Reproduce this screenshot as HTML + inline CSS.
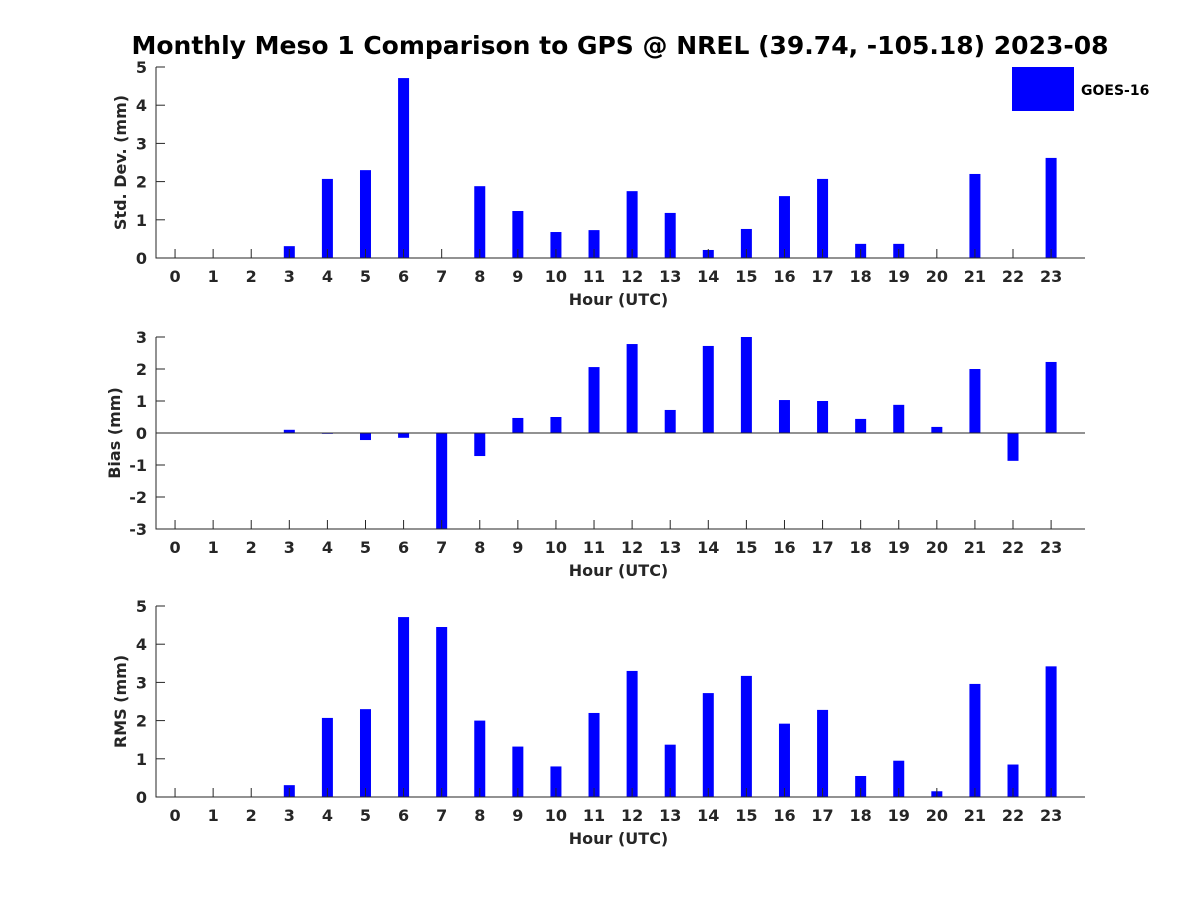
<!DOCTYPE html>
<html><head><meta charset="utf-8"><style>
body{margin:0;background:#fff;}
text{font-family:"DejaVu Sans","Liberation Sans",sans-serif;font-weight:bold;fill:#262626;}
</style></head><body>
<svg id="chart" width="1200" height="900" xmlns="http://www.w3.org/2000/svg">
<rect width="1200" height="900" fill="#fff"/>
<text x="620" y="54" font-size="25" text-anchor="middle" style="fill:#000">Monthly Meso 1 Comparison to GPS @ NREL (39.74, -105.18) 2023-08</text>
<rect x="1012" y="67" width="62" height="44" fill="#0000ff"/>
<text x="1081" y="95" font-size="14" style="fill:#000">GOES-16</text>
</svg>
<script>
const hours = [0,1,2,3,4,5,6,7,8,9,10,11,12,13,14,15,16,17,18,19,20,21,22,23];
const stdValues = [null,null,null,0.31,2.07,2.3,4.71,null,1.88,1.23,0.68,0.73,1.75,1.18,0.21,0.76,1.62,2.07,0.37,0.37,null,2.2,null,2.62];
const biasValues = [null,null,null,0.1,-0.02,-0.22,-0.15,-3.5,-0.72,0.47,0.5,2.06,2.78,0.72,2.72,3.0,1.03,1.0,0.44,0.88,0.19,2.0,-0.87,2.22];
const rmsValues = [null,null,null,0.31,2.07,2.3,4.71,4.45,2.0,1.32,0.8,2.2,3.3,1.37,2.72,3.17,1.92,2.28,0.55,0.95,0.15,2.96,0.85,3.42];
const stdTicks = [0,1,2,3,4,5];
const biasTicks = [-3,-2,-1,0,1,2,3];
const rmsTicks = [0,1,2,3,4,5];

const svg = document.getElementById('chart');
const NS = 'http://www.w3.org/2000/svg';
function mk(tag, attrs, parent){
  const e = document.createElementNS(NS, tag);
  for (const k in attrs) e.setAttribute(k, attrs[k]);
  (parent||svg).appendChild(e);
  return e;
}
const X0 = 156, X1 = 1085, XMIN = -0.5, XMAX = 23.89;
function xs(v){ return X0 + (v - XMIN) / (XMAX - XMIN) * (X1 - X0); }

function panel(name, values, ticks, ymin, ymax, top, bottom, ylabel, ylx){
  const g = mk('g', {});
  
  
  const ys = v => bottom - (v - ymin) / (ymax - ymin) * (bottom - top);
  const base = ys(Math.max(ymin, Math.min(ymax, 0)));
  values.forEach((v, i) => {
    if (v === null) return;
    const vc = Math.max(ymin, Math.min(ymax, v));
    const y1 = ys(vc);
    const r = mk('rect', {x: xs(hours[i]) - 5.5, y: Math.min(y1, base), width: 11, height: Math.max(0.8, Math.abs(base - y1)), fill: '#0000ff'}, g);
    
    
  });
  if (ymin < 0) {
    const zl = mk('line', {x1: X0, x2: X1, y1: base, y2: base, stroke: '#262626', 'stroke-width': 1}, g);
    
    
  }
  const ax = mk('path', {d: `M${X0},${top}V${bottom}H${X1}`, stroke: '#262626', fill: 'none', 'stroke-width': 1}, g);
  
  
  hours.forEach(h => {
    const x = xs(h);
    mk('line', {x1: x, x2: x, y1: bottom, y2: bottom - 9, stroke: '#262626'}, g);
    const t = mk('text', {x: x, y: bottom + 24, 'font-size': 16, 'text-anchor': 'middle'}, g);
    t.textContent = h;
    
    
  });
  ticks.forEach(v => {
    const y = ys(v);
    mk('line', {x1: X0, x2: X0 + 9, y1: y, y2: y, stroke: '#262626'}, g);
    const t = mk('text', {x: X0 - 9, y: y + 6, 'font-size': 16, 'text-anchor': 'end'}, g);
    t.textContent = v;
    
    
  });
  const xl = mk('text', {x: (X0 + X1) / 2 - 2, y: bottom + 47, 'font-size': 16, 'text-anchor': 'middle'}, g);
  xl.textContent = 'Hour (UTC)';
  
  
  const cy = (top + bottom) / 2;
  const yl = mk('text', {x: ylx, y: cy, 'font-size': 16, 'text-anchor': 'middle', transform: `rotate(-90 ${ylx} ${cy})`}, g);
  yl.textContent = ylabel;
  
  
}
panel('std-dev', stdValues, stdTicks, 0, 5, 67, 258, 'Std. Dev. (mm)', 126);
panel('bias', biasValues, biasTicks, -3, 3, 337, 529, 'Bias (mm)', 120);
panel('rms', rmsValues, rmsTicks, 0, 5, 606, 797, 'RMS (mm)', 126);
</script>
</body></html>
